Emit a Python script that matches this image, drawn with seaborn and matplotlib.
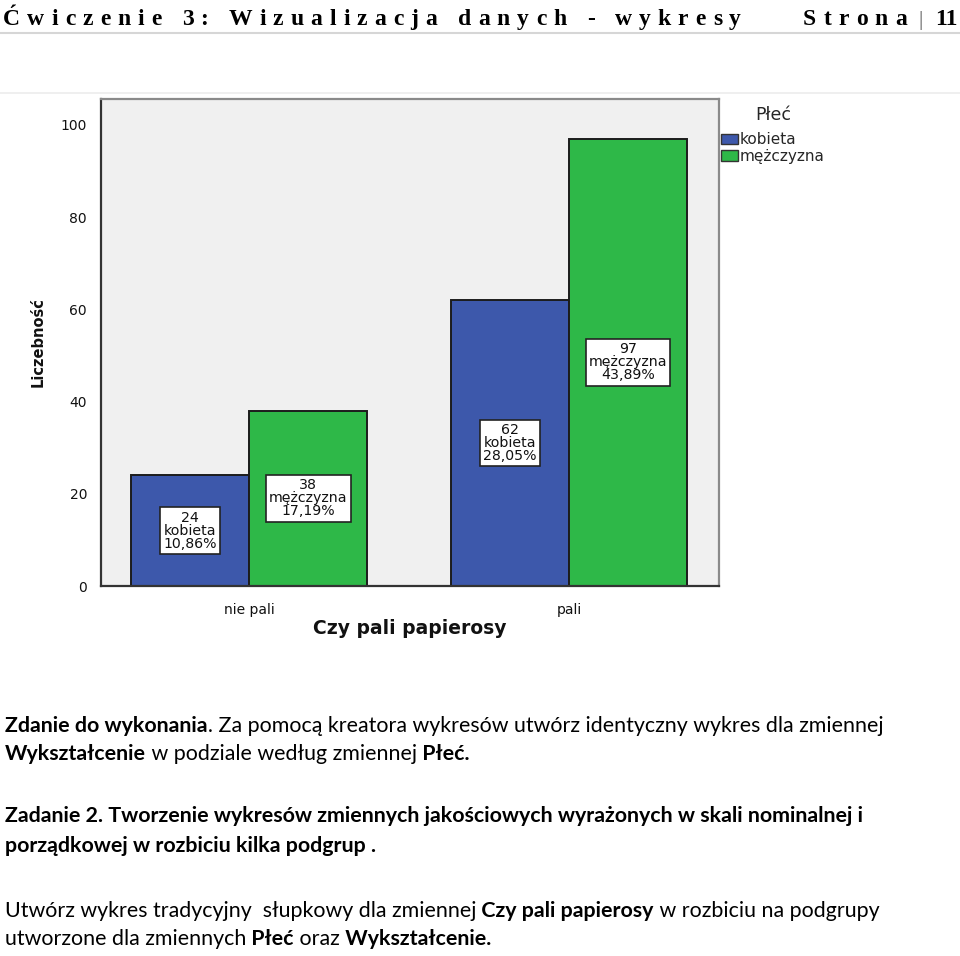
import numpy as np
import pandas as pd
import matplotlib
matplotlib.use("Agg")
import matplotlib.pyplot as plt
import seaborn as sns
from matplotlib.patches import Patch
from matplotlib.lines import Line2D

# ---------------- data ----------------
categories = ["nie pali", "pali"]
hue_levels = ["kobieta", "mężczyzna"]
counts_kobieta = [24, 62]
counts_mezczyzna = [38, 97]
pct_kobieta = ["10,86%", "28,05%"]
pct_mezczyzna = ["17,19%", "43,89%"]
y_ticks = [0, 20, 40, 60, 80, 100]
colors = ["#3d58ab", "#2eb848"]

header_title = "Ćwiczenie 3: Wizualizacja danych - wykresy"
header_page_word = "Strona"
header_page_num = "11"

body_lines = [
    [("Zdanie do wykonania", True), (". Za pomocą kreatora wykresów utwórz identyczny wykres dla zmiennej", False)],
    [("Wykształcenie", True), (" w podziale według zmiennej", False), (" Płeć.", True)],
    [("Zadanie 2. Tworzenie wykresów zmiennych jakościowych wyrażonych w skali nominalnej i", True)],
    [("porządkowej w rozbiciu kilka podgrup .", True)],
    [("Utwórz wykres tradycyjny  słupkowy dla zmiennej", False), (" Czy pali papierosy", True), (" w rozbiciu na podgrupy", False)],
    [("utworzone dla zmiennych", False), (" Płeć", True), (" oraz", False), (" Wykształcenie.", True)],
]
body_baselines = [732, 760, 822, 852, 917, 945]

W, H = 960, 956
sns.set_theme(style="white")
plt.rcParams["font.family"] = ["DejaVu Sans"]

fig = plt.figure(figsize=(W / 100, H / 100), dpi=100)
fig.patch.set_facecolor("white")


def fx(x):
    return x / W


def fy(y):
    return 1 - y / H


renderer = fig.canvas.get_renderer()

# ---------------- header ----------------
def tracked(s, x0, x1, y_base, **kw):
    ts = []
    ws = []
    for ch in s:
        t = fig.text(0, fy(y_base), ch, va="baseline", ha="left", **kw)
        ts.append(t)
        if ch == " ":
            ws.append(kw.get("fontsize", 16) * 100 / 72 * 0.25)
        else:
            ws.append(t.get_window_extent(renderer).width)
    track = ((x1 - x0) - sum(ws)) / (len(s) - 1)
    x = x0
    for t, w in zip(ts, ws):
        t.set_x(fx(x))
        x += w + track


hdr_kw = dict(fontsize=17, family="Liberation Serif", fontweight="bold", color="black")
tracked(header_title, 3, 741, 25, **hdr_kw)
tracked(header_page_word, 803, 907, 25, **hdr_kw)
fig.text(fx(920), fy(25), "|", va="baseline", ha="center", fontsize=15,
         family="Liberation Serif", color="#555555")
fig.text(fx(958), fy(25), header_page_num, va="baseline", ha="right", **hdr_kw)

fig.add_artist(Line2D([0, 1], [fy(33), fy(33)], transform=fig.transFigure,
                      color="#d6d6d6", lw=1.5))
fig.add_artist(Line2D([0, 1], [fy(93), fy(93)], transform=fig.transFigure,
                      color="#ececec", lw=1.2))

# ---------------- chart ----------------
df = pd.DataFrame({
    "Czy pali papierosy": categories + categories,
    "Płeć": [hue_levels[0]] * len(categories) + [hue_levels[1]] * len(categories),
    "Liczebność": counts_kobieta + counts_mezczyzna,
    "pct": pct_kobieta + pct_mezczyzna,
})

ax = fig.add_axes([fx(101), fy(586), fx(719) - fx(101), fy(99) - fy(586)])
ax.set_facecolor("#f0f0f0")
sns.barplot(data=df, x="Czy pali papierosy", y="Liczebność", hue="Płeć",
            order=categories, hue_order=hue_levels, palette=colors,
            saturation=1, width=0.74, edgecolor="#1c1c1c", linewidth=1.4,
            errorbar=None, legend=False, ax=ax)

ax.set_xlim(-0.4625, 1.469)
ax.set_ylim(0, 105.6)
ax.set_yticks(y_ticks)
ax.tick_params(axis="both", direction="out", length=8, width=1.5, color="#333333",
               labelsize=10, labelcolor="#111111", pad=2)
ax.tick_params(axis="x", pad=4)
for side in ["left", "bottom"]:
    ax.spines[side].set_color("#333333")
    ax.spines[side].set_linewidth(1.6)
for side in ["top", "right"]:
    ax.spines[side].set_visible(True)
    ax.spines[side].set_color("#8a8a8a")
    ax.spines[side].set_linewidth(1.6)

ax.set_ylabel("Liczebność", fontsize=10.5, fontweight="bold", color="#111111")
ax.yaxis.label.set_va("center")
ax.yaxis.set_label_coords((38 - 101) / 618, 0.5)
ax.set_xlabel("Czy pali papierosy", fontsize=13.5, fontweight="bold", color="#111111")
ax.xaxis.label.set_va("center")
ax.xaxis.set_label_coords(0.5, (586 - 628) / 487)

for level, cont in zip(hue_levels, ax.containers):
    sub = df[df["Płeć"] == level].set_index("Czy pali papierosy").loc[categories]
    for bar, n, p in zip(cont, sub["Liczebność"], sub["pct"]):
        ax.text(bar.get_x() + bar.get_width() / 2, bar.get_height() / 2,
                f"{n}\n{level}\n{p}", ha="center", va="center", fontsize=10.2,
                linespacing=0.92, color="#111111",
                bbox=dict(boxstyle="square,pad=0.22", fc="white", ec="#222222", lw=1.2))

handles = [Patch(facecolor=c, edgecolor="#333333", linewidth=1.0) for c in colors]
leg = fig.legend(handles, hue_levels, title="Płeć", loc="upper left",
                 bbox_to_anchor=(fx(721), fy(106)), frameon=False, fontsize=11,
                 title_fontsize=12.5, handlelength=1.1, handleheight=0.7,
                 handletextpad=0.15, labelspacing=0.12, borderpad=0, borderaxespad=0)
leg._legend_box.sep = 6

# ---------------- body text ----------------
def seg_width(segments, size):
    total = 0
    tmp = []
    for txt, bold in segments:
        t = fig.text(0, 0, txt, fontsize=size, family="Lato",
                     fontweight="bold" if bold else "normal")
        total += t.get_window_extent(renderer).width
        tmp.append(t)
    for t in tmp:
        t.remove()
    return total


base = 17.0
size = base * 875 / seg_width(body_lines[0], base)

for segs, yb in zip(body_lines, body_baselines):
    x = 5
    for txt, bold in segs:
        t = fig.text(fx(x), fy(yb), txt, fontsize=size, family="Lato",
                     fontweight="bold" if bold else "normal", color="black",
                     va="baseline", ha="left")
        x += t.get_window_extent(renderer).width

fig.savefig("out.png", dpi=100, facecolor="white")
